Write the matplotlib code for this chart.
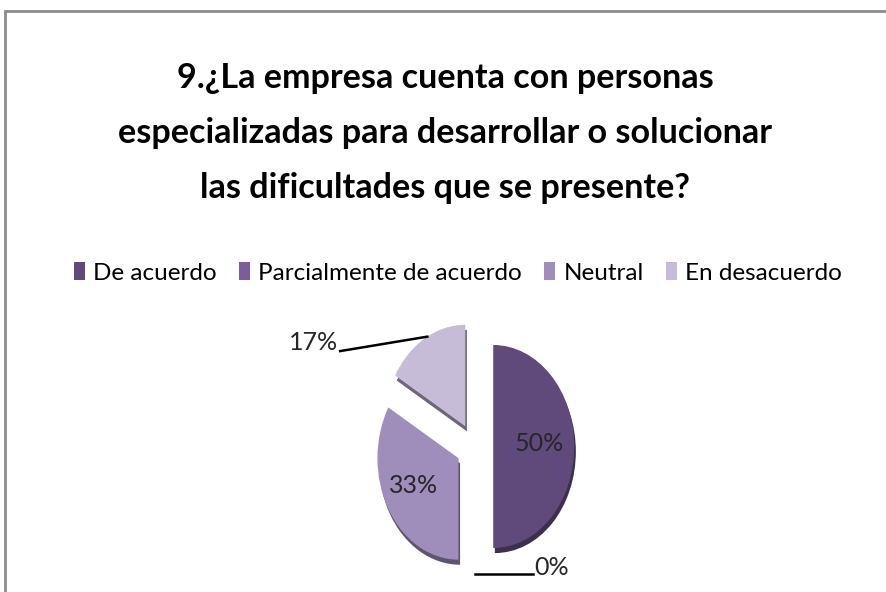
import numpy as np
import matplotlib
matplotlib.use("Agg")
import matplotlib.pyplot as plt
from matplotlib.patches import Rectangle

plt.rcParams['font.family'] = ['Lato', 'DejaVu Sans']

# --- data ---
categories = ["De acuerdo", "Parcialmente de acuerdo", "Neutral", "En desacuerdo"]
counts = [3, 0, 2, 1]
colors = ["#5f4a7b", "#7a5c9f", "#9f8dbb", "#c7bcd8"]
shadow_colors = ["#3d2f50", "#4d3a66", "#5f5470", "#6c6678"]
title_lines = ["9.¿La empresa cuenta con personas",
               "especializadas para desarrollar o solucionar",
               "las dificultades que se presente?"]

total = sum(counts)
pcts = [c / total * 100 for c in counts]

W, H = 886, 592
fig = plt.figure(figsize=(W / 100, H / 100), dpi=100)

# outer frame (chart area border)
fig.patches.append(Rectangle((5 / W, -0.1), 2, (H - 11) / H + 0.1, transform=fig.transFigure,
                             fill=False, edgecolor="#8c8c8c", lw=2))

fig.text(445 / W, 1 - 133 / H, "\n".join(title_lines), ha="center", va="center",
         fontsize=24.6, fontweight="bold", linespacing=1.9)

# pie axes: 1 unit = 81 px wide, 101.5 px tall (stretched pie)
cx, cy, rx, ry = 474.6, H - 446.5, 81, 101.5
ax = fig.add_axes([(cx - 3 * rx) / W, (cy - 1.4 * ry) / H, 6 * rx / W, 2.8 * ry / H])

explode = [0.23] * len(counts)
# thickness / shadow layer
ax.pie(counts, explode=explode, startangle=90, counterclock=False,
       colors=shadow_colors, center=(0.02, -0.05), wedgeprops=dict(linewidth=0))
wedges, _ = ax.pie(counts, explode=explode, startangle=90, counterclock=False,
                   colors=colors, wedgeprops=dict(linewidth=0))
ax.set_aspect("auto")
ax.set_xlim(-3, 3)
ax.set_ylim(-1.4, 1.4)
ax.axis("off")

# labels
angles = 90 - np.cumsum([0] + pcts[:-1]) * 3.6 - np.array(pcts) * 1.8
for i, (p, a) in enumerate(zip(pcts, angles)):
    t = np.deg2rad(a)
    ex, ey = explode[i] * np.cos(t), explode[i] * np.sin(t)
    lab = f"{p:.0f}%"
    if p >= 25:
        ax.text(ex + 0.6 * np.cos(t) - 0.03, ey + 0.6 * np.sin(t) + 0.03, lab,
                ha="center", va="center", fontsize=18, color="#262626")
    elif p == 0:
        ax.plot([ex, ex + 0.72], [ey - 1.03, ey - 1.03], color="black", lw=1.8)
        ax.text(ex + 0.74, ey - 0.96, lab, ha="left", va="center", fontsize=18, color="#262626")
    else:
        tt = np.deg2rad(a - 2)
        ax.plot([-1.66, ex + 1.0 * np.cos(tt)], [0.94, ey + 1.0 * np.sin(tt)],
                color="black", lw=1.8)
        ax.text(-1.69, 1.02, lab, ha="right", va="center", fontsize=18, color="#262626")

fig.legend(wedges, categories, loc="center", bbox_to_anchor=(458 / W, 1 - 273 / H), ncol=4,
           frameon=False, fontsize=17.5, handlelength=0.45, handleheight=0.7,
           handletextpad=0.35, columnspacing=0.9, borderpad=0)

fig.savefig("out.png", dpi=100, facecolor="white")
